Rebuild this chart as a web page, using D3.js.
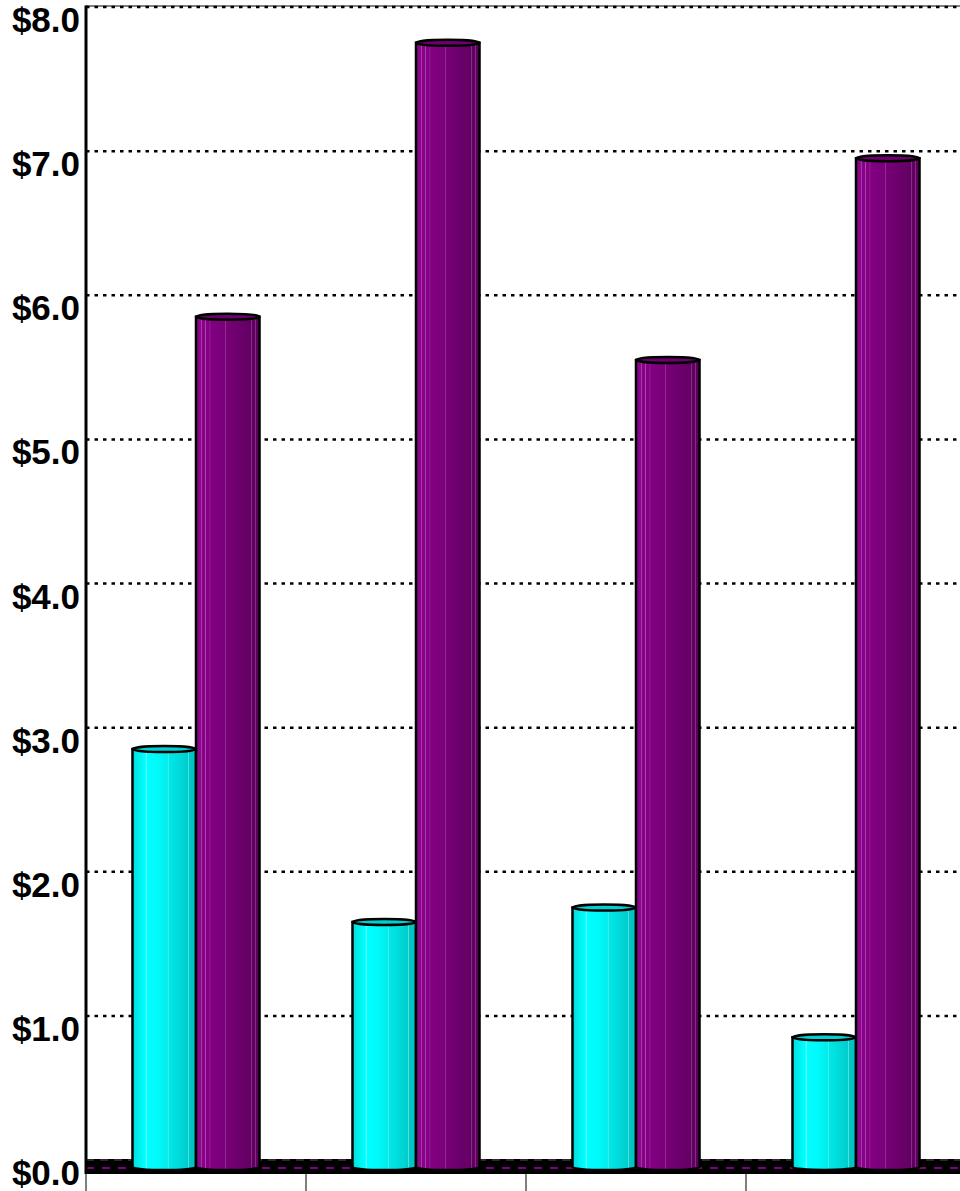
<!DOCTYPE html>
<html><head><meta charset="utf-8">
<script src="https://cdn.jsdelivr.net/npm/d3@7/dist/d3.min.js"></script>
<style>html,body{margin:0;padding:0;background:#fff;overflow:hidden}</style>
</head><body>
<svg id="chart" width="960" height="1191"></svg>
<script>
const categories = ["North", "East", "South", "Other"];
const seriesNames = ["Series A", "Series B"];
const seriesA = [2.9, 1.7, 1.8, 0.9];
const seriesB = [5.9, 7.8, 5.6, 7.0];
const yTicks = [0, 1, 2, 3, 4, 5, 6, 7, 8];
const tickLabels = ["$0.0", "$1.0", "$2.0", "$3.0", "$4.0", "$5.0", "$6.0", "$7.0", "$8.0"];

const svg = d3.select("#chart");
const W = 960, H = 1191;
const left = 86, right = 966;
// back wall scale
const y = d3.scaleLinear().domain([0, 8]).range([1160, 7]);
const barDepth = 7, frontDepth = 13;

const x0 = d3.scaleBand().domain(categories).range([left, right]).padding(0);
const x1 = d3.scaleBand().domain(seriesNames).range([0, x0.bandwidth()]).paddingInner(0).paddingOuter(0.732);

const defs = svg.append("defs");
function grad(id, stops) {
  const g = defs.append("linearGradient").attr("id", id).attr("x1", "0").attr("x2", "1").attr("y1", "0").attr("y2", "0");
  stops.forEach(s => g.append("stop").attr("offset", s[0]).attr("stop-color", s[1]));
}
grad("gA", [[0, "#00dcdc"], [0.12, "#00f2f2"], [0.2, "#00ffff"], [0.22, "#60ffff"], [0.235, "#00ffff"], [0.4, "#00fafa"], [0.55, "#00ecec"], [0.56, "#70f0f0"], [0.575, "#00e8e8"], [0.8, "#00d4d4"], [0.87, "#00cccc"], [0.88, "#60e0e0"], [0.895, "#00c8c8"], [1, "#00c0c0"]]);
grad("gB", [[0, "#860086"], [0.08, "#8c0a8c"], [0.09, "#b050b0"], [0.1, "#8a008a"], [0.14, "#8a008a"], [0.15, "#a848a8"], [0.16, "#860086"], [0.21, "#840084"], [0.22, "#a040a0"], [0.23, "#820082"], [0.45, "#7a007a"], [0.46, "#a050a0"], [0.47, "#780078"], [0.75, "#680068"], [0.86, "#640064"], [0.87, "#9a4a9a"], [0.88, "#620062"], [0.93, "#600060"], [0.94, "#904090"], [0.95, "#5e005e"], [1, "#5a005a"]]);

// back wall gridlines
const grid = svg.append("g");
grid.selectAll("line").data(yTicks.filter(d => d > 0)).join("line")
  .attr("x1", left).attr("x2", W)
  .attr("y1", d => y(d)).attr("y2", d => y(d))
  .attr("stroke", "#000").attr("stroke-width", 2.5).attr("stroke-dasharray", "3.5,5");
svg.append("line").attr("x1", left).attr("x2", W).attr("y1", y(8) - 1).attr("y2", y(8) - 1)
  .attr("stroke", "#000").attr("stroke-width", 1);

// floor band
svg.append("rect").attr("x", left).attr("y", y(0) - 1).attr("width", W - left).attr("height", 15).attr("fill", "#000");
svg.append("line").attr("x1", left).attr("x2", W).attr("y1", y(0)).attr("y2", y(0))
  .attr("stroke", "#555").attr("stroke-width", 1).attr("stroke-dasharray", "8,6");
svg.append("line").attr("x1", left).attr("x2", W).attr("y1", y(0) + 8).attr("y2", y(0) + 8)
  .attr("stroke", "#800080").attr("stroke-width", 2).attr("stroke-dasharray", "8,8");

// x ticks
svg.append("g").selectAll("line").data(categories).join("line")
  .attr("x1", d => x0(d)).attr("x2", d => x0(d))
  .attr("y1", y(0) + 14).attr("y2", H)
  .attr("stroke", "#555").attr("stroke-width", 1.5);

// left axis
svg.append("line").attr("x1", left).attr("x2", left).attr("y1", y(8) - 1.5).attr("y2", y(0) + 14)
  .attr("stroke", "#000").attr("stroke-width", 3);

// y labels
svg.append("g").selectAll("text").data(yTicks).join("text")
  .attr("x", 80).attr("y", d => y(d) + frontDepth + 12)
  .attr("text-anchor", "end")
  .attr("font-family", "Liberation Sans, Arial, sans-serif")
  .attr("font-weight", "bold").attr("font-size", 35)
  .attr("fill", "#000")
  .text((d, i) => tickLabels[i]);

// x labels (below visible area, as in the reference)
svg.append("g").selectAll("text").data(categories).join("text")
  .attr("x", d => x0(d) + x0.bandwidth() / 2).attr("y", H + 26)
  .attr("text-anchor", "middle")
  .attr("font-family", "Liberation Sans, Arial, sans-serif")
  .attr("font-weight", "bold").attr("font-size", 34)
  .text(d => d);

// bars
const rows = [];
categories.forEach((c, i) => {
  rows.push({ cat: c, s: seriesNames[0], v: seriesA[i], fill: "url(#gA)", top: "#00d0d0" });
  rows.push({ cat: c, s: seriesNames[1], v: seriesB[i], fill: "url(#gB)", top: "#6e006e" });
});
const ry = 3;
const yb = v => y(v) + barDepth;
const bars = svg.append("g").selectAll("g").data(rows).join("g");
bars.append("path")
  .attr("d", d => {
    const xl = x0(d.cat) + x1(d.s), w = x1.bandwidth(), xr = xl + w;
    const yt = yb(d.v), ybot = yb(0);
    return `M${xl},${yt} L${xl},${ybot} A${w / 2},${ry} 0 0 0 ${xr},${ybot} L${xr},${yt} Z`;
  })
  .attr("fill", d => d.fill).attr("stroke", "#000").attr("stroke-width", 2.5);
bars.append("ellipse")
  .attr("cx", d => x0(d.cat) + x1(d.s) + x1.bandwidth() / 2)
  .attr("cy", d => yb(d.v))
  .attr("rx", x1.bandwidth() / 2).attr("ry", ry)
  .attr("fill", d => d.top).attr("stroke", "#000").attr("stroke-width", 2.5);
</script>
</body></html>
